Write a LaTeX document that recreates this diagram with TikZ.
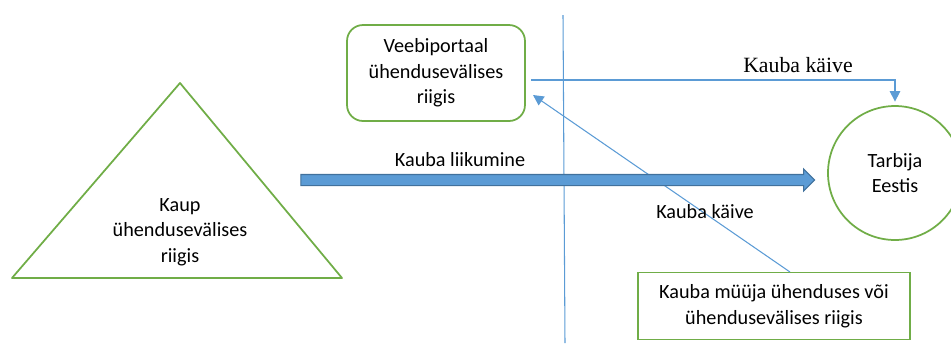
\documentclass[tikz,border=0pt]{standalone}
\usepackage{fontspec}
\setmainfont{Carlito}
\newfontfamily\serifwords{Liberation Serif}
\usepackage{xcolor}
\usetikzlibrary{arrows.meta, shapes.arrows}
\definecolor{shape-green}{HTML}{70AD47}
\definecolor{line-blue}{HTML}{5B9BD5}
\definecolor{arrow-edge}{HTML}{41719C}

\begin{document}
\begin{tikzpicture}[x=0.02cm, y=-0.02cm,
    every node/.style={font=\fontsize{11.5}{14.6}\selectfont, align=center},
    greenline/.style={draw=shape-green, line width=1pt},
    bluelink/.style={draw=line-blue, line width=0.6pt},
    flow/.style={bluelink, -{Triangle[width=6pt, length=6pt]}, color=line-blue}]
    \useasboundingbox (0,0) rectangle (951,343);
    \coordinate (apex) at (180,83);
    \coordinate (baseL) at (12,278);
    \coordinate (baseR) at (342,278);
    \draw[greenline, line join=round] (apex) -- (baseL) -- (baseR) -- cycle;
    \node (goods) at (180,232) {Kaup\\ühendusevälises\\riigis};
    \node[greenline, rounded corners=0.32cm, minimum width=3.56cm,
      minimum height=1.92cm] (portal) at (436,73) {Veebiportaal\\ühendusevälises\\riigis};
    \node[greenline, circle, minimum size=2.68cm] (consumer) at (895,173) {Tarbija\\Eestis};
    \node[greenline, minimum width=5.44cm, minimum height=1.34cm] (seller) at (774,306) {Kauba müüja ühenduses või\\ühendusevälises riigis};
    \coordinate (divtop) at (563,15);
    \coordinate (divbot) at (565,343);
    \draw[bluelink] (divtop) -- (divbot);
    \coordinate (saleout) at (531,80);
    \draw[flow, shorten >=2pt] (saleout) -| (consumer.north);
    \node[font=\serifwords\fontsize{12.4}{14}\selectfont] (turnoverA) at (798,65) {Kauba käive};
    \coordinate (sellerexit) at (790,272);
    \coordinate (portalin) at (533,95);
    \draw[flow] (sellerexit) -- (portalin);
    \node (turnoverB) at (705,212) {Kauba käive};
    \node[single arrow, fill=line-blue, draw=arrow-edge, line width=0.6pt,
      minimum height=10.28cm, minimum width=0.42cm, inner ysep=0.1cm, inner xsep=0pt,
      single arrow head extend=0.11cm] (move) at (555,180) {};
    \node (moveLabel) at (460,160) {Kauba liikumine};
\end{tikzpicture}
\end{document}
